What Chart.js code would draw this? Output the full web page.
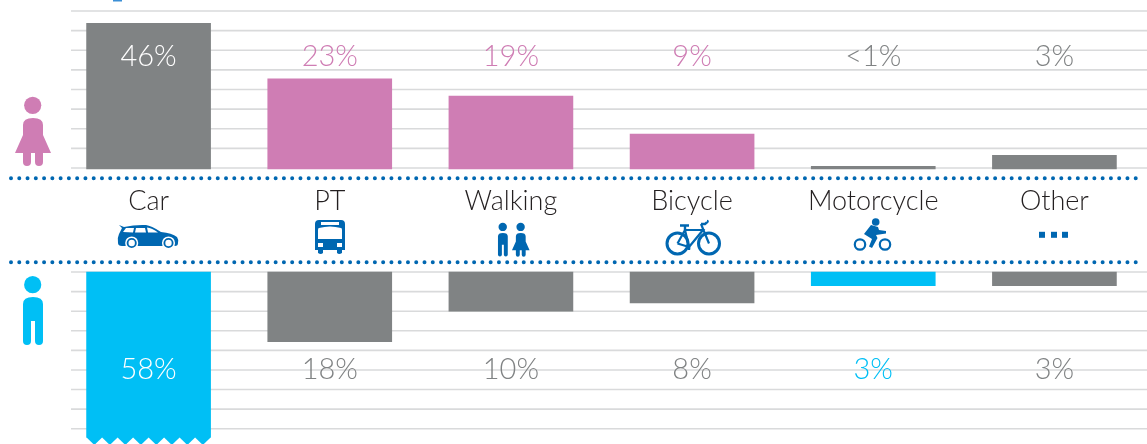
<!DOCTYPE html>
<html>
<head>
<meta charset="utf-8">
<style>
    html, body { margin: 0; padding: 0; background: #fff; overflow: hidden; }
    #page { position: relative; width: 1147px; height: 444px; }
    canvas, svg { position: absolute; left: 0; display: block; }
    #womenChart { top: 0; }
    #menChart { top: 265px; }
    svg { top: 0; }
</style>
<script src="https://cdn.jsdelivr.net/npm/chart.js@4"></script>
</head>
<body>
<div id="page">
    <canvas id="womenChart" width="1147" height="225"></canvas>
    <canvas id="menChart" width="1147" height="179"></canvas>
    <svg width="1147" height="444" viewBox="0 0 1147 444">
        <defs>
            <g id="woman">
                <circle cx="32.7" cy="105.3" r="8.6"/>
                <path d="M23 125 Q23 118 33 118 Q43 118 43 125 V135 L51 153 H43 V162 Q43 166 39 166 Q35 166 35 162 V153 H31 V162 Q31 166 27 166 Q23 166 23 162 V153 H15 L23 135 Z"/>
            </g>
            <g id="man">
                <circle cx="32.7" cy="284.7" r="8.6"/>
                <path d="M23 304 Q23 297 33 297 Q43 297 43 304 V341 Q43 345 39 345 Q35 345 35 341 V321 H31 V341 Q31 345 27 345 Q23 345 23 341 Z"/>
            </g>
        </defs>

        <rect x="113" y="0" width="9" height="1.5" fill="#3b8fd6"/>

        <line x1="11" y1="178.3" x2="1139" y2="178.3" stroke="#0067b1" stroke-width="4" stroke-linecap="round" stroke-dasharray="0 8.27"/>
        <line x1="11" y1="262.3" x2="1139" y2="262.3" stroke="#0067b1" stroke-width="4" stroke-linecap="round" stroke-dasharray="0 8.27"/>

        <use href="#woman" fill="#cf7db4"/>
        <use href="#man" fill="#00bff5"/>

        <!-- coche -->
        <g fill="#0067b1">
            <path d="M118 243 Q117 238 119 234 L122 228 L119 225 L124 227 Q135 224.500 146 225 Q151 225.500 161 232 Q172 233 177 237 Q179 240 178 243 Q178 246 175 246 H122 Q118 246 118 243 Z"/>
            <circle cx="131.700" cy="243" r="5.800" stroke="#fff" stroke-width="1.500"/>
            <circle cx="168.500" cy="243" r="5.800" stroke="#fff" stroke-width="1.500"/>
        </g>
        <circle cx="131.700" cy="243" r="3.200" fill="#fff"/>
        <circle cx="168.500" cy="243" r="3.200" fill="#fff"/>
        <path d="M123 232 L126 228 H134 L133 232.500 Z M136 228 H145 L146 232.500 H135 Z M147 227.500 Q152 228 158 232.500 H148 Z" fill="#fff"/>

        <!-- autobus -->
        <path d="M319 220 H341 Q345 220 345 224 V250 H342 V253 Q339 255 337 253 V250 H323 V253 Q321 255 318 253 V250 H315 V224 Q315 220 319 220 Z" fill="#0067b1"/>
        <path d="M319 228 Q330 225 341 228 Q342 228 342 230 V239 H318 V230 Q318 228 319 228 Z" fill="#fff"/>
        <rect x="321" y="222" width="18" height="3" fill="#fff"/>
        <rect x="318" y="243" width="5" height="4" fill="#fff"/>
        <rect x="337" y="243" width="5" height="4" fill="#fff"/>

        <!-- peatones -->
        <use href="#man" fill="#0067b1" transform="translate(486.700 87.400) scale(0.49)"/>
        <use href="#woman" fill="#0067b1" transform="translate(504.600 175.300) scale(0.49)"/>

        <!-- bicicleta -->
        <g fill="none" stroke="#0067b1">
            <circle cx="677.500" cy="243.500" r="10.500" stroke-width="3"/>
            <circle cx="709" cy="243.500" r="10.500" stroke-width="3"/>
            <path d="M677.500 243.500 L685 230 L689 247 L677.500 243.500 M685 230 H703 L689 247 M701 224 L709 243.500" stroke-width="2.200"/>
            <path d="M680 225.500 H689 M685 226 V230 M701 224 H705 Q709 221 707 221 M689 247 V250" stroke-width="2.400"/>
        </g>

        <!-- moto -->
        <g fill="none" stroke="#0067b1" stroke-width="2.200">
            <circle cx="860" cy="244.500" r="5.200"/>
            <circle cx="885" cy="244.500" r="5.200"/>
        </g>
        <circle cx="875.700" cy="222" r="3.800" fill="#0067b1"/>
        <path d="M864 234 L871 225 L878 227 L879 230 L886 231 V233.500 L876 235 L877.500 238 L872 248 L869 246.500 L872 239 Z" fill="#0067b1"/>

        <!-- otros -->
        <rect x="1039" y="231.800" width="6" height="6" fill="#0067b1"/>
        <rect x="1051" y="231.800" width="6" height="6" fill="#0067b1"/>
        <rect x="1062" y="231.800" width="6" height="6" fill="#0067b1"/>
    </svg>
</div>

<script>
const categories = ['Car', 'PT', 'Walking', 'Bicycle', 'Motorcycle', 'Other'];

const mujeresValores = [46, 22.75, 18.35, 8.65, 0.45, 3.25];
const mujeresEtiquetas = ['46%', '23%', '19%', '9%', '<1%', '3%'];

const hombresValores = [58, 17.8, 10, 7.9, 3.5, 3.5];
const hombresEtiquetas = ['58%', '18%', '10%', '8%', '3%', '3%'];

const yTicks = [0, 5, 10, 15, 20, 25, 30, 35, 40];

const GRIS = '#808384';
const ROSA = '#cf7db4';
const CIAN = '#00bff5';

const mujeresColores = [GRIS, ROSA, ROSA, ROSA, GRIS, GRIS];
const mujeresColoresTexto = ['#fff', ROSA, ROSA, ROSA, GRIS, GRIS];
const hombresColores = [CIAN, GRIS, GRIS, GRIS, CIAN, GRIS];
const hombresColoresTexto = ['#fff', GRIS, GRIS, GRIS, CIAN, GRIS];

const FUENTE = '"Lato", sans-serif';

// Rejilla propia: las lineas van mas alla del area de las barras
const rejilla = {
    id: 'rejilla',
    beforeDatasetsDraw(chart) {
        const ctx = chart.ctx;
        ctx.save();
        ctx.strokeStyle = '#d9dadb';
        ctx.lineWidth = 1.6;
        yTicks.forEach(v => {
            const y = chart.scales.y.getPixelForValue(v);
            ctx.beginPath();
            ctx.moveTo(71, y);
            ctx.lineTo(1147, y);
            ctx.stroke();
        });
        ctx.restore();
    }
};

// Porcentajes a una altura fija dentro de cada panel
const etiquetas = {
    id: 'etiquetas',
    afterDatasetsDraw(chart, args, opts) {
        const ctx = chart.ctx;
        const y = chart.scales.y.getPixelForValue(opts.valor);
        ctx.save();
        ctx.font = '300 29px ' + FUENTE;
        ctx.textAlign = 'center';
        ctx.textBaseline = 'middle';
        opts.textos.forEach((t, i) => {
            ctx.fillStyle = opts.colores[i];
            ctx.fillText(t, chart.scales.x.getPixelForValue(i), y);
        });
        ctx.restore();
    }
};

// Corte en zigzag de la barra que se sale de la escala
const zigzag = {
    id: 'zigzag',
    afterDatasetsDraw(chart, args, opts) {
        if (!opts.activo) return;
        const barra = chart.getDatasetMeta(0).data[0];
        const izq = barra.x - barra.width / 2;
        const paso = barra.width / 8;
        const ctx = chart.ctx;
        const alto = chart.height;
        ctx.save();
        ctx.fillStyle = '#fff';
        for (let k = 0; k <= 8; k++) {
            const x = izq + paso * k;
            ctx.beginPath();
            ctx.moveTo(x - paso / 2, alto + 1);
            ctx.lineTo(x, alto - 6.5);
            ctx.lineTo(x + paso / 2, alto + 1);
            ctx.closePath();
            ctx.fill();
        }
        ctx.restore();
    }
};

new Chart(document.getElementById('womenChart'), {
    type: 'bar',
    data: {
        labels: categories,
        datasets: [{
            data: mujeresValores,
            backgroundColor: mujeresColores,
            barThickness: 124,
            base: -0.25,
            clip: { left: false, right: false, top: -12, bottom: false }
        }]
    },
    options: {
        responsive: false,
        animation: false,
        layout: { padding: { left: 58, right: 2, top: 11, bottom: 0 } },
        plugins: {
            legend: { display: false },
            tooltip: { enabled: false },
            etiquetas: { valor: 28.3, textos: mujeresEtiquetas, colores: mujeresColoresTexto },
            zigzag: { activo: false }
        },
        scales: {
            y: { display: false, min: 0, max: 40 },
            x: {
                grid: { display: false },
                border: { display: false },
                afterFit: scale => { scale.height = 57; },
                ticks: {
                    color: '#231f20',
                    padding: 9,
                    maxRotation: 0,
                    autoSkip: false,
                    font: { family: FUENTE, size: 27, weight: '300' }
                }
            }
        }
    },
    plugins: [rejilla, etiquetas, zigzag]
});

new Chart(document.getElementById('menChart'), {
    type: 'bar',
    data: {
        labels: categories,
        datasets: [{
            data: hombresValores,
            backgroundColor: hombresColores,
            barThickness: 124,
            clip: { left: false, right: false, top: false, bottom: false }
        }]
    },
    options: {
        responsive: false,
        animation: false,
        layout: { padding: { left: 58, right: 2, top: 7, bottom: 15.3 } },
        plugins: {
            legend: { display: false },
            tooltip: { enabled: false },
            etiquetas: { valor: 25, textos: hombresEtiquetas, colores: hombresColoresTexto },
            zigzag: { activo: true }
        },
        scales: {
            y: { display: false, min: 0, max: 40, reverse: true },
            x: { display: false }
        }
    },
    plugins: [rejilla, etiquetas, zigzag]
});
</script>
</body>
</html>
